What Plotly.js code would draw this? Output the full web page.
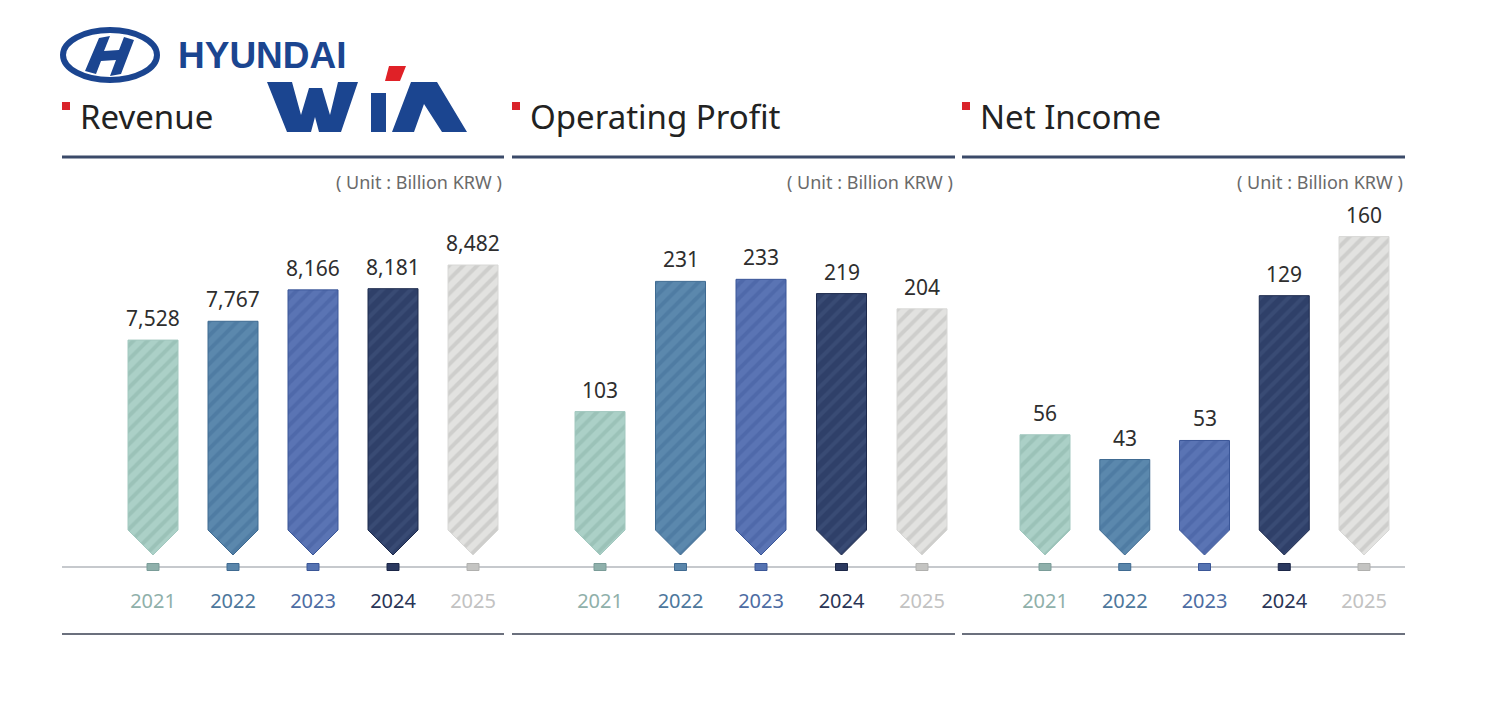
<!DOCTYPE html>
<html>
<head>
<meta charset="utf-8">
<script src="https://cdn.plot.ly/plotly-3.0.1.min.js"></script>
<style>html,body{margin:0;padding:0;background:#fff;}#chart{width:1500px;height:704px;}</style>
</head>
<body>
<div id="chart"></div>
<script>
// ---------------- DATA ----------------
const years = ['2021', '2022', '2023', '2024', '2025'];
const revenue = [7528, 7767, 8166, 8181, 8482];
const operatingProfit = [103, 231, 233, 219, 204];
const netIncome = [56, 43, 53, 129, 160];
const panelTitles = ['Revenue', 'Operating Profit', 'Net Income'];
const unitLabel = '( Unit : Billion KRW )';

// ---------------- STYLE ----------------
const W = 1500, H = 704;
const X = px => px / W;
const Y = py => 1 - py / H;
const FONT = 'Noto Sans, Open Sans, sans-serif';
const barBg = ['#abd0c7', '#5b88ad', '#5a74b4', '#2f4069', '#e2e2e0'];
const barStripe = ['#8cb4aa', '#44709a', '#445d9f', '#43567f', '#b9b9b7'];
const barEdge = ['#a2c8bf', '#3e6a91', '#3a5698', '#1d2a4d', '#d8d8d6'];
const yearColor = ['#8fb0aa', '#4d779c', '#4d6ca3', '#2a3556', '#c2c2c2'];
const markFill = ['#8fb0ab', '#5a86ab', '#5573b2', '#2b3960', '#c4c4c2'];
const markEdge = ['#7a9c98', '#3f6a91', '#3a5697', '#1b2647', '#b0b0ae'];

const panels = [
  {vals: revenue, xd: [62, 504], c0: 153, step: 80, yr: [4797, 9308]},
  {vals: operatingProfit, xd: [512, 955], c0: 600, step: 80.5, yr: [-38, 311]},
  {vals: netIncome, xd: [962, 1405], c0: 1045, step: 79.75, yr: [-7.1, 179.2]}
];
const tipTop = 530, tipBot = 555, plotTop = 200, baseLineY = 567, bottomLineY = 634, headLineY = 157;
const halfW = 25; // px

const data = [];
const shapes = [];
const annotations = [];
const layout = {
  width: W, height: H,
  margin: {l: 0, r: 0, t: 0, b: 0},
  paper_bgcolor: '#ffffff', plot_bgcolor: 'rgba(0,0,0,0)',
  showlegend: false,
  font: {family: FONT, color: '#333'},
  barmode: 'overlay'
};

panels.forEach((p, k) => {
  const xid = k === 0 ? 'x' : 'x' + (k + 1);
  const yid = k === 0 ? 'y' : 'y' + (k + 1);
  const xk = k === 0 ? 'xaxis' : 'xaxis' + (k + 1);
  const yk = k === 0 ? 'yaxis' : 'yaxis' + (k + 1);
  const xr = [(p.xd[0] - p.c0) / p.step, (p.xd[1] - p.c0) / p.step];
  const hw = halfW / p.step;
  const idx = years.map((_, i) => i);
  layout[xk] = {
    domain: [X(p.xd[0]), X(p.xd[1])], range: xr, anchor: yid,
    tickvals: idx,
    ticktext: years.map((y, i) => '<span style="color:' + yearColor[i] + '">' + y + '</span>'),
    tickfont: {size: 20, family: FONT},
    ticks: 'outside', ticklen: 28, tickcolor: 'rgba(0,0,0,0)',
    showgrid: false, zeroline: false, showline: false, fixedrange: true
  };
  layout[yk] = {
    domain: [Y(tipBot), Y(plotTop)], range: p.yr, anchor: xid,
    visible: false, fixedrange: true
  };
  idx.forEach(i => {
    data.push({
      type: 'bar', x: [i], y: [p.vals[i] - p.yr[0]], base: p.yr[0],
      xaxis: xid, yaxis: yid, width: 2 * hw, name: years[i],
      marker: {
        color: barBg[i],
        line: {color: barEdge[i], width: 1},
        pattern: {shape: '/', fgcolor: barStripe[i], size: 10, solidity: 0.4, fillmode: 'overlay'}
      },
      hoverinfo: 'skip'
    });
    const e = 0.05;
    // cut corners (pointed bottom)
    shapes.push({type: 'path', xref: xid, yref: 'paper', layer: 'above',
      path: `M ${i - hw - e},${Y(tipTop)} L ${i - hw},${Y(tipTop)} L ${i},${Y(tipBot)} L ${i},${Y(tipBot + 3)} L ${i - hw - e},${Y(tipBot + 3)} Z`,
      fillcolor: '#ffffff', line: {width: 0}});
    shapes.push({type: 'path', xref: xid, yref: 'paper', layer: 'above',
      path: `M ${i + hw + e},${Y(tipTop)} L ${i + hw},${Y(tipTop)} L ${i},${Y(tipBot)} L ${i},${Y(tipBot + 3)} L ${i + hw + e},${Y(tipBot + 3)} Z`,
      fillcolor: '#ffffff', line: {width: 0}});
    shapes.push({type: 'path', xref: xid, yref: 'paper', layer: 'above',
      path: `M ${i - hw},${Y(tipTop)} L ${i},${Y(tipBot)} L ${i + hw},${Y(tipTop)}`,
      line: {color: barEdge[i], width: 1}});
    // small marker on baseline
    shapes.push({type: 'rect', xref: xid, yref: 'paper', xsizemode: 'pixel', xanchor: i,
      x0: -6, x1: 6, y0: Y(baseLineY + 3.5), y1: Y(baseLineY - 3.5),
      fillcolor: markFill[i], line: {color: markEdge[i], width: 1}, layer: 'above'});
    // value label
    annotations.push({xref: xid, yref: yid, x: i, y: p.vals[i], yanchor: 'bottom', yshift: 6,
      text: p.vals[i].toLocaleString('en-US'), showarrow: false,
      font: {size: 21, color: '#2e2e2e', family: FONT}});
  });
  // header line, bottom line
  shapes.push({type: 'line', xref: 'paper', yref: 'paper', x0: X(p.xd[0]), x1: X(p.xd[1]), y0: Y(headLineY), y1: Y(headLineY),
    line: {color: '#3b4a69', width: 3}});
  shapes.push({type: 'line', xref: 'paper', yref: 'paper', x0: X(p.xd[0]), x1: X(p.xd[1]), y0: Y(bottomLineY), y1: Y(bottomLineY),
    line: {color: '#3a4152', width: 1.5}});
  // red square + title
  shapes.push({type: 'rect', xref: 'paper', yref: 'paper', x0: X(p.xd[0]), x1: X(p.xd[0] + 8), y0: Y(110), y1: Y(102),
    fillcolor: '#d9232a', line: {width: 0}});
  annotations.push({xref: 'paper', yref: 'paper', x: X(p.xd[0] + 16), y: Y(116), xanchor: 'left', yanchor: 'middle',
    text: panelTitles[k], showarrow: false, font: {size: 33, color: '#222222', family: FONT}});
  annotations.push({xref: 'paper', yref: 'paper', x: X(p.xd[1]), y: Y(182), xanchor: 'right', yanchor: 'middle',
    text: unitLabel, showarrow: false, font: {size: 18, color: '#6a6a6a', family: FONT}});
});

// baseline across all panels
shapes.push({type: 'line', xref: 'paper', yref: 'paper', x0: X(62), x1: X(1405), y0: Y(baseLineY), y1: Y(baseLineY),
  line: {color: '#8e949c', width: 1.2}, layer: 'below'});

// ---------------- LOGO ----------------
const logoBlue = '#1b4590';
const poly = pts => 'M ' + pts.map(p => X(p[0]) + ',' + Y(p[1])).join(' L ') + ' Z';
shapes.push({type: 'circle', xref: 'paper', yref: 'paper', x0: X(63), x1: X(157), y0: Y(80), y1: Y(30),
  line: {color: logoBlue, width: 6}, fillcolor: 'rgba(0,0,0,0)'});
// stylised H
shapes.push({type: 'path', xref: 'paper', yref: 'paper', line: {width: 0}, fillcolor: logoBlue,
  path: poly([[99, 38], [110, 36], [104, 51], [119, 50], [124, 37], [134, 40], [121, 74], [110, 76], [116, 60], [101, 61], [96, 74], [85, 71]])});
annotations.push({xref: 'paper', yref: 'paper', x: X(176), y: Y(55), xanchor: 'left', yanchor: 'middle',
  text: '<b>HYUNDAI</b>', showarrow: false, font: {size: 37, color: logoBlue, family: 'Liberation Sans, Arial, sans-serif'}});
// W
shapes.push({type: 'path', xref: 'paper', yref: 'paper', line: {width: 0}, fillcolor: logoBlue,
  path: poly([[267, 82], [292, 82], [301, 115], [309, 88], [322, 88], [330, 115], [338, 82], [358, 82], [341, 132], [319, 132], [315, 117], [311, 132], [287, 132]])});
// I stem
shapes.push({type: 'path', xref: 'paper', yref: 'paper', line: {width: 0}, fillcolor: logoBlue,
  path: poly([[371, 93], [386, 93], [386, 132], [371, 132]])});
// red accent
shapes.push({type: 'path', xref: 'paper', yref: 'paper', line: {width: 0}, fillcolor: '#e02127',
  path: poly([[389, 66], [406, 66], [400, 81], [385, 81]])});
// Λ
shapes.push({type: 'path', xref: 'paper', yref: 'paper', line: {width: 0}, fillcolor: logoBlue,
  path: poly([[411, 82], [437, 82], [467, 132], [442, 132], [424, 104], [414, 132], [392, 132]])});

layout.shapes = shapes;
layout.annotations = annotations;

Plotly.newPlot('chart', data, layout, {displayModeBar: false, staticPlot: true});
</script>
</body>
</html>
